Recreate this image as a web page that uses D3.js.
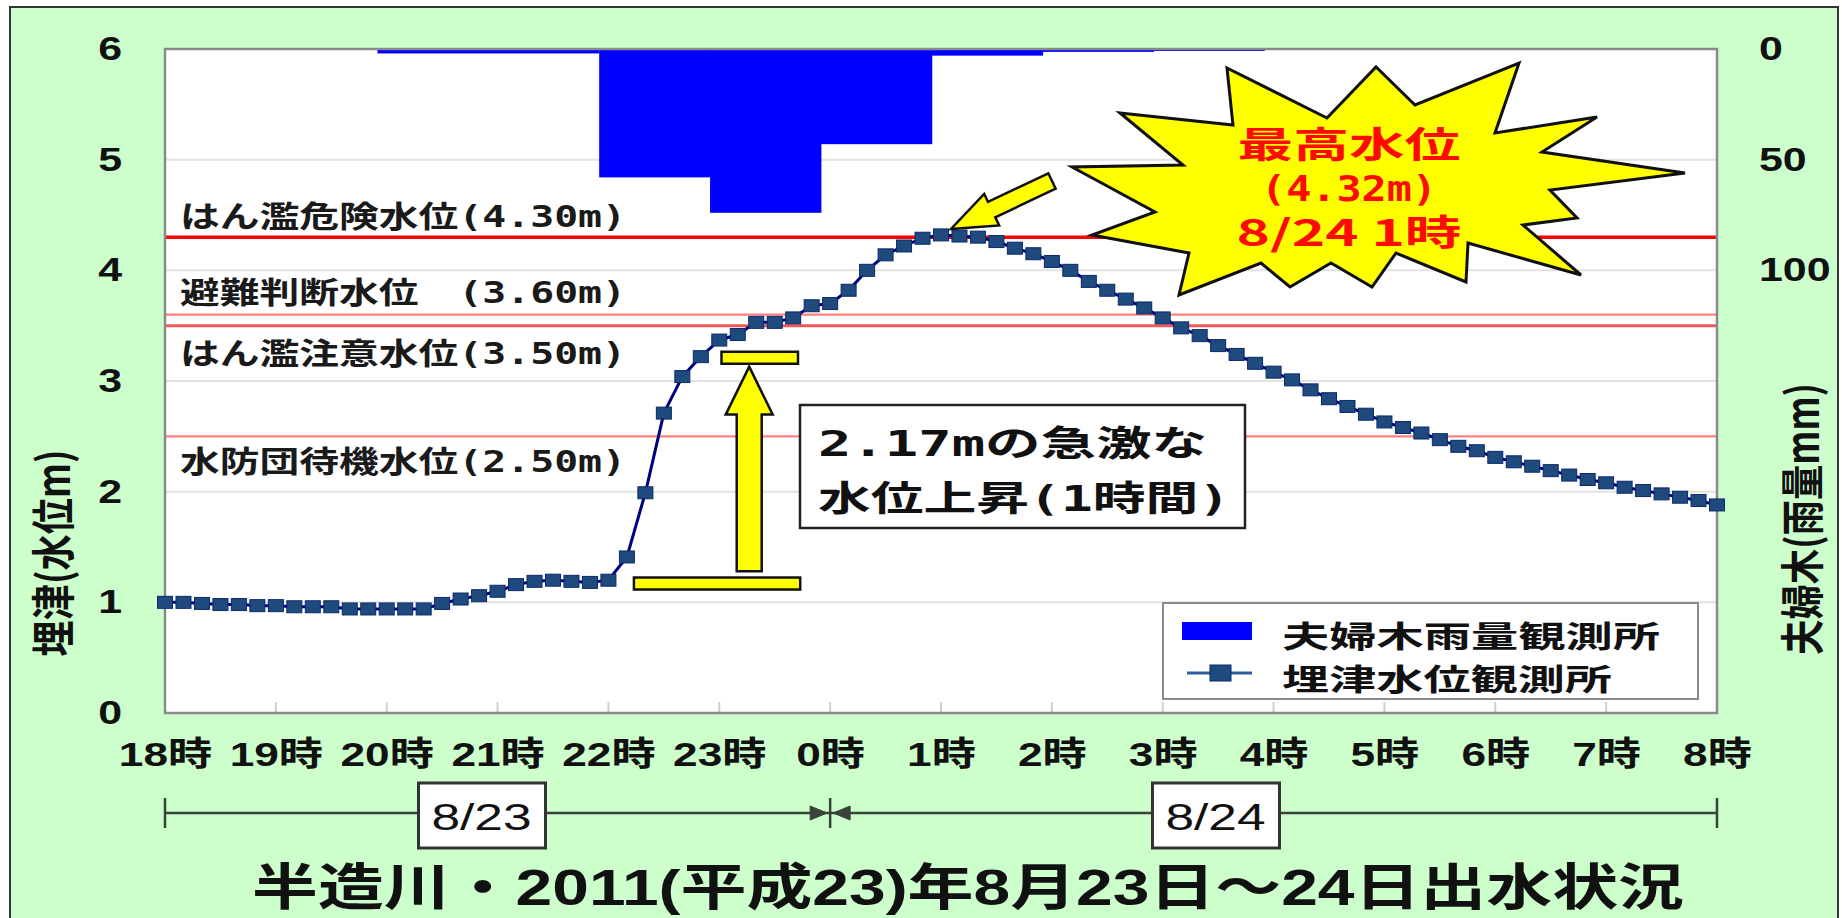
<!DOCTYPE html>
<html>
<head>
<meta charset="utf-8">
<script src="https://cdn.jsdelivr.net/npm/d3@7"></script>
<style>
body { margin: 0; background: #fff; }
svg { display: block; }
</style>
</head>
<body>
<script>
// ---- data ----
const hourTicks = [18, 19, 20, 21, 22, 23, 0, 1, 2, 3, 4, 5, 6, 7, 8];
const levelTimes = d3.range(85).map(i => i / 6);   // hours after 18:00, 10 min steps
const waterLevel = [
  1.00, 1.00, 0.99, 0.98, 0.98, 0.97,   // 18時
  0.97, 0.96, 0.96, 0.96, 0.94, 0.94,   // 19時
  0.94, 0.94, 0.94, 0.99, 1.03, 1.06,   // 20時
  1.10, 1.16, 1.19, 1.20, 1.19, 1.18,   // 21時
  1.20, 1.41, 1.99, 2.71, 3.04, 3.22,   // 22時
  3.37, 3.42, 3.53, 3.53, 3.57, 3.68,   // 23時
  3.70, 3.82, 4.00, 4.14, 4.22, 4.29,   // 0時
  4.32, 4.31, 4.30, 4.26, 4.20, 4.15,   // 1時
  4.08, 4.00, 3.90, 3.82, 3.74, 3.66,   // 2時
  3.57, 3.48, 3.41, 3.32, 3.24, 3.16,   // 3時
  3.08, 3.01, 2.92, 2.84, 2.77, 2.70,   // 4時
  2.63, 2.58, 2.53, 2.47, 2.41, 2.37,   // 5時
  2.31, 2.27, 2.23, 2.19, 2.15, 2.11,   // 6時
  2.08, 2.04, 2.01, 1.98, 1.95, 1.92,   // 7時
  1.88                                  // 8時
];
const rainHours = [20, 21, 22, 23, 0, 1, 2, 3];
const rainMm = [2, 2, 58, 74, 43, 3, 1.3, 0.9];
const thresholdNames = ['はん濫危険水位(4.30m)', '避難判断水位　(3.60m)', 'はん濫注意水位(3.50m)', '水防団待機水位(2.50m)'];
const thresholdLevels = [4.30, 3.60, 3.50, 2.50];
const levelTicks = [0, 1, 2, 3, 4, 5, 6];
const rainTicks = [0, 50, 100];
const legendNames = ['夫婦木雨量観測所', '埋津水位観測所'];
const dateLabels = ['8/23', '8/24'];

// ---- layout ----
const W = 1842, H = 918;
const plot = { left: 165, right: 1717, top: 49, bottom: 713 };
const SX = 1.3;   // glyphs in the source are stretched sideways
const FONT = '"Liberation Sans", "Noto Sans CJK JP", sans-serif';
const FONT_JP = '"Noto Sans CJK JP", sans-serif';
const FONT_MONO = '"DejaVu Sans Mono", "Noto Sans CJK JP", monospace';

const x = d3.scaleLinear().domain([0, 14]).range([plot.left, plot.right]);
const y = d3.scaleLinear().domain([0, 6]).range([plot.bottom, plot.top]);
const yRain = d3.scaleLinear().domain([0, 300]).range([plot.top, plot.bottom]);
const toOffset = h => (h >= 18 ? h - 18 : h + 6);
const step = 1 / 6;

const svg = d3.select('body').append('svg')
  .attr('width', W)
  .attr('height', H);

function addText(g, str, px, py, o) {
  const t = g.append('text')
    .attr('x', px).attr('y', py)
    .attr('font-family', o.family || FONT_JP)
    .attr('font-size', o.size)
    .attr('font-weight', o.weight || 'normal')
    .attr('fill', o.fill || '#111')
    .attr('text-anchor', o.anchor || 'start')
    .text(str);
  if (o.width) t.attr('textLength', o.width).attr('lengthAdjust', 'spacingAndGlyphs');
  return t;
}

function arrowPoints(tail, tip, s, h, len) {
  const dx = tip[0] - tail[0], dy = tip[1] - tail[1];
  const L = Math.hypot(dx, dy);
  const u = [dx / L, dy / L], n = [-u[1], u[0]];
  const b = [tip[0] - u[0] * len, tip[1] - u[1] * len];
  const p = (o, k) => [o[0] + n[0] * k, o[1] + n[1] * k];
  return [p(tail, s), p(b, s), p(b, h), tip, p(b, -h), p(b, -s), p(tail, -s)];
}

// background frame
svg.append('rect')
  .attr('x', 10).attr('y', 7)
  .attr('width', 1828).attr('height', 940)
  .attr('fill', '#ccffcc')
  .attr('stroke', '#333')
  .attr('stroke-width', 2);

svg.append('rect')
  .attr('x', plot.left).attr('y', plot.top)
  .attr('width', plot.right - plot.left)
  .attr('height', plot.bottom - plot.top)
  .attr('fill', '#fff');

// gridlines
svg.selectAll('.grid')
  .data(levelTicks.filter(v => v > 0 && v < 6))
  .enter()
  .append('line')
  .attr('class', 'grid')
  .attr('x1', plot.left).attr('x2', plot.right)
  .attr('y1', d => y(d)).attr('y2', d => y(d))
  .attr('stroke', '#e2e2e2')
  .attr('stroke-width', 2);

// rain bars (hanging from the top)
svg.selectAll('.rain')
  .data(rainMm)
  .enter()
  .append('rect')
  .attr('class', 'rain')
  .attr('x', (d, i) => x(toOffset(rainHours[i]) - step / 2))
  .attr('width', (d, i) => x(toOffset(rainHours[i]) + 1 - step / 2) - x(toOffset(rainHours[i]) - step / 2) + 0.5)
  .attr('y', yRain(0))
  .attr('height', d => yRain(d) - yRain(0))
  .attr('fill', '#0000ff');

// hour ticks along the bottom
svg.selectAll('.hour-tick')
  .data(hourTicks)
  .enter()
  .append('line')
  .attr('class', 'hour-tick')
  .attr('x1', (d, i) => x(i)).attr('x2', (d, i) => x(i))
  .attr('y1', plot.bottom).attr('y2', plot.bottom - 11)
  .attr('stroke', '#cfcfcf')
  .attr('stroke-width', 2);

// threshold lines
const thrColor = ['#ff0000', '#ff8080', '#f25a5a', '#ff8080'];
const thrWidth = [3.5, 2.2, 3, 2.2];
const thrLabelDy = [-10, -12, 38, 36];
svg.selectAll('.thr')
  .data(thresholdLevels)
  .enter()
  .append('line')
  .attr('class', 'thr')
  .attr('x1', plot.left).attr('x2', plot.right)
  .attr('y1', d => y(d)).attr('y2', d => y(d))
  .attr('stroke', (d, i) => thrColor[i])
  .attr('stroke-width', (d, i) => thrWidth[i]);

thresholdNames.forEach((name, i) => {
  addText(svg, name, 180, y(thresholdLevels[i]) + thrLabelDy[i],
    { family: FONT_MONO, size: 30, width: 446, fill: '#1a1a1a', weight: 'bold' });
});

// plot border
svg.append('rect')
  .attr('x', plot.left).attr('y', plot.top)
  .attr('width', plot.right - plot.left)
  .attr('height', plot.bottom - plot.top)
  .attr('fill', 'none')
  .attr('stroke', '#8a8a8a')
  .attr('stroke-width', 2.5);

// water level line
const line = d3.line()
  .x((d, i) => x(levelTimes[i]))
  .y(d => y(d));

svg.append('path')
  .datum(waterLevel)
  .attr('d', line)
  .attr('fill', 'none')
  .attr('stroke', '#000080')
  .attr('stroke-width', 3);

svg.selectAll('.mark')
  .data(waterLevel)
  .enter()
  .append('rect')
  .attr('class', 'mark')
  .attr('x', (d, i) => x(levelTimes[i]) - 7.5)
  .attr('y', d => y(d) - 6)
  .attr('width', 15)
  .attr('height', 12)
  .attr('fill', '#1f4a7e')
  .attr('stroke', '#0b2a6b')
  .attr('stroke-width', 1);

// axes
const axisLeft = svg.append('g')
  .attr('transform', `translate(${plot.left},0)`)
  .call(d3.axisLeft(y).tickValues(levelTicks).tickSize(0).tickFormat(d3.format('d')));
const axisRight = svg.append('g')
  .attr('transform', `translate(${plot.right},0)`)
  .call(d3.axisRight(yRain).tickValues(rainTicks).tickSize(0));
const axisBottom = svg.append('g')
  .attr('transform', `translate(0,${plot.bottom})`)
  .call(d3.axisBottom(x).tickValues(d3.range(hourTicks.length)).tickSize(0)
    .tickFormat(i => hourTicks[i] + '時'));

[axisLeft, axisRight, axisBottom].forEach(a => {
  a.select('.domain').remove();
  a.selectAll('text')
    .attr('font-family', FONT)
    .attr('font-weight', 'bold')
    .attr('fill', '#111')
    .attr('transform', `scale(${SX},1)`);
});
axisLeft.selectAll('text').attr('x', -43 / SX).attr('font-size', 33);
axisRight.selectAll('text').attr('x', 42 / SX).attr('font-size', 33);
axisBottom.selectAll('text').attr('y', 53).attr('dy', 0).attr('font-size', 34);

// axis titles
function vTitle(str, cx, cy, len) {
  const g = svg.append('g').attr('transform', `translate(${cx},${cy}) scale(${SX},1) rotate(-90)`);
  addText(g, str, 0, 0, { size: 34, weight: 'bold', anchor: 'middle', width: len, fill: '#111' })
    .attr('dominant-baseline', 'central');
}
vTitle('埋津(水位m)', 50, 553, 207);
vTitle('夫婦木(雨量mm)', 1799, 519, 272);

// ---- rise annotation ----
const yellow = '#ffff00';
[[4.23, 5.73, 1.17], [5.02, 5.71, 3.21]].forEach(([t0, t1, v]) => {
  svg.append('rect')
    .attr('x', x(t0)).attr('y', y(v) - 6)
    .attr('width', x(t1) - x(t0)).attr('height', 12)
    .attr('fill', yellow).attr('stroke', '#111').attr('stroke-width', 2.5);
});
svg.append('polygon')
  .attr('points', arrowPoints([x(5.27), y(1.28)], [x(5.27), y(3.13)], 12.5, 23.5, 48).join(' '))
  .attr('fill', yellow).attr('stroke', '#111').attr('stroke-width', 2.5);

svg.append('rect')
  .attr('x', 800).attr('y', 405)
  .attr('width', 445).attr('height', 123)
  .attr('fill', '#fff').attr('stroke', '#222').attr('stroke-width', 2.5);
addText(svg, '2.17mの急激な', 818, 456, { family: FONT_MONO, size: 35, width: 389, weight: 'bold' });
addText(svg, '水位上昇(1時間)', 818, 511, { family: FONT_MONO, size: 35, width: 412, weight: 'bold' });

// ---- peak annotation ----
const star = [
  [1120, 113], [1233, 125], [1227, 68], [1327, 118], [1376, 67], [1415, 105],
  [1519, 63], [1495, 133], [1597, 117], [1542, 152], [1685, 173], [1550, 190],
  [1577, 218], [1523, 225], [1581, 275], [1468, 243], [1466, 282], [1396, 253],
  [1372, 287], [1331, 263], [1290, 287], [1261, 263], [1179, 295], [1189, 253],
  [1092, 235], [1155, 212], [1072, 167], [1183, 165]
];
svg.append('polygon')
  .attr('points', star.join(' '))
  .attr('fill', yellow).attr('stroke', '#111').attr('stroke-width', 3)
  .attr('stroke-linejoin', 'miter');

svg.append('polygon')
  .attr('points', arrowPoints([1052, 181], [x(7) + 10, y(4.32) - 6], 8.5, 17.5, 45).join(' '))
  .attr('fill', yellow).attr('stroke', '#111').attr('stroke-width', 2.5);

const red = '#ff0a00';
addText(svg, '最高水位', 1349, 158, { size: 36, weight: 'bold', fill: red, anchor: 'middle', width: 223 });
addText(svg, '(4.32m)', 1349, 201, { family: FONT_MONO, size: 36, weight: 'bold', fill: red, anchor: 'middle', width: 176 });
addText(svg, '8/24 1時', 1349, 246, { size: 36, weight: 'bold', fill: red, anchor: 'middle', width: 225 });

// ---- legend ----
const lg = svg.append('g');
lg.append('rect')
  .attr('x', 1163).attr('y', 603)
  .attr('width', 535).attr('height', 96)
  .attr('fill', '#fff').attr('stroke', '#8a8a8a').attr('stroke-width', 2);
lg.append('rect')
  .attr('x', 1182).attr('y', 622).attr('width', 70).attr('height', 18)
  .attr('fill', '#0000ff');
lg.append('line')
  .attr('x1', 1187).attr('x2', 1252).attr('y1', 673).attr('y2', 673)
  .attr('stroke', '#2e5c99').attr('stroke-width', 3);
lg.append('rect')
  .attr('x', 1210).attr('y', 665).attr('width', 21).attr('height', 16)
  .attr('fill', '#1f4a7e').attr('stroke', '#0b2a6b');
addText(lg, legendNames[0], 1282, 647, { size: 30, weight: 'bold', width: 378 });
addText(lg, legendNames[1], 1282, 690, { size: 30, weight: 'bold', width: 330 });

// ---- date bar ----
const dateY = 813;
const db = svg.append('g').attr('stroke', '#384438').attr('stroke-width', 2.5);
db.append('line').attr('x1', x(0)).attr('x2', x(14)).attr('y1', dateY).attr('y2', dateY);
[0, 6, 14].forEach(t => {
  db.append('line').attr('x1', x(t)).attr('x2', x(t)).attr('y1', dateY - 15).attr('y2', dateY + 15);
});
db.append('polygon')
  .attr('points', [[x(6) - 20, dateY - 7], [x(6) - 3, dateY], [x(6) - 20, dateY + 7]].join(' '))
  .attr('fill', '#384438').attr('stroke-width', 1);
db.append('polygon')
  .attr('points', [[x(6) + 20, dateY - 7], [x(6) + 3, dateY], [x(6) + 20, dateY + 7]].join(' '))
  .attr('fill', '#384438').attr('stroke-width', 1);

[2.855, 9.476].forEach((t, i) => {
  svg.append('rect')
    .attr('x', x(t) - 63).attr('y', 783)
    .attr('width', 127).attr('height', 65)
    .attr('fill', '#fff').attr('stroke', '#333').attr('stroke-width', 3);
  addText(svg, dateLabels[i], x(t), 830, { family: FONT, size: 37, anchor: 'middle', width: 100, fill: '#111' });
});

// ---- title ----
addText(svg, '半造川・2011(平成23)年8月23日～24日出水状況', 252, 905,
  { family: FONT, size: 50, weight: 'bold', width: 1432, fill: '#111' });
</script>
</body>
</html>
